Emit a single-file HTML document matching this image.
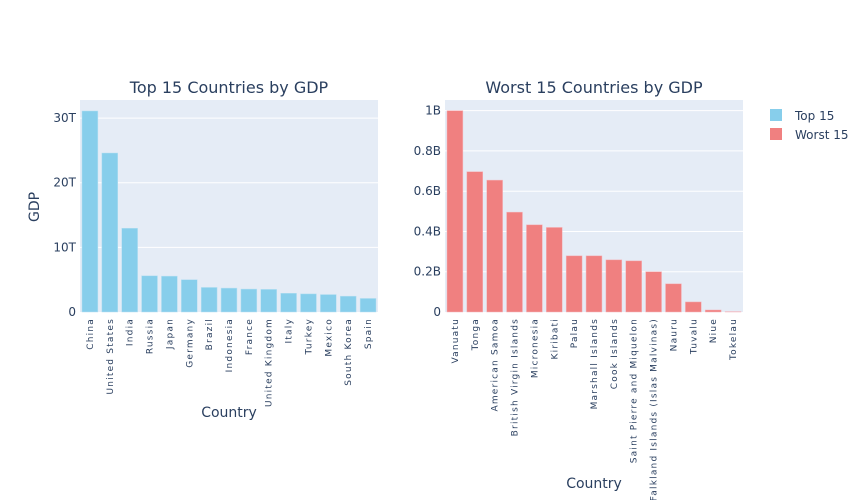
<!DOCTYPE html>
<html><head><meta charset="utf-8">
<style>
body{margin:0;background:#fff;}
svg{display:block;font-family:"DejaVu Sans","Liberation Sans",sans-serif;}
</style></head>
<body>
<svg id="c" width="866" height="500"></svg>
<script>
const topCountries=["China","United States","India","Russia","Japan","Germany","Brazil","Indonesia","France","United Kingdom","Italy","Turkey","Mexico","South Korea","Spain"];
const topValues=[31.1,24.6,12.96,5.6,5.55,5.0,3.8,3.7,3.55,3.5,2.9,2.8,2.7,2.45,2.1];
const topTicks=[0,10,20,30];
const topTickLabels=["0","10T","20T","30T"];
const worstCountries=["Vanuatu","Tonga","American Samoa","British Virgin Islands","Micronesia","Kiribati","Palau","Marshall Islands","Cook Islands","Saint Pierre and Miquelon","Falkland Islands (Islas Malvinas)","Nauru","Tuvalu","Niue","Tokelau"];
const worstValues=[1.0,0.697,0.655,0.496,0.433,0.42,0.279,0.279,0.259,0.254,0.2,0.14,0.05,0.01,0.002];
const worstTicks=[0,0.2,0.4,0.6,0.8,1];
const worstTickLabels=["0","0.2B","0.4B","0.6B","0.8B","1B"];
const NS="http://www.w3.org/2000/svg";
const svg=document.getElementById('c');
function mk(tag,attrs,parent,text){const e=document.createElementNS(NS,tag);for(const k in attrs)e.setAttribute(k,attrs[k]);if(text!==undefined)e.textContent=text;(parent||svg).appendChild(e);return e;}
function panel(p){
  const g=mk('g',{});
  
  
  const bg=mk('rect',{x:p.x0,y:p.y0,width:p.x1-p.x0,height:p.y1-p.y0,fill:'#e5ecf6'},g);
  
  
  const yS=v=>p.y1-(v/p.max)*(p.y1-p.y0);
  const band=(p.x1-p.x0)/p.cats.length;
  const xS=i=>p.x0+band*(i+0.5);
  p.ticks.forEach((t,i)=>{
    if(t>0){const l=mk('line',{x1:p.x0,x2:p.x1,y1:yS(t),y2:yS(t),stroke:'#fff','stroke-width':1},g);
      }
    const tx=mk('text',{x:p.x0-4,y:yS(t)+4,'text-anchor':'end','font-size':12,fill:'#2a3f5f'},g,p.tickLabels[i]);
    
  });
  p.vals.forEach((v,i)=>{
    const w=band*0.8;
    const r=mk('rect',{x:xS(i)-w/2,y:yS(v),width:w,height:p.y1-yS(v),fill:p.color,stroke:p.stroke,'stroke-width':0.5},g);
    
    
    const tl=mk('text',{x:0,y:0,transform:`translate(${xS(i)+3},${p.y1+6}) rotate(-90)`,'text-anchor':'end','font-size':9,fill:'#2a3f5f','letter-spacing':'1.2'},g,p.cats[i]);
    
  });
  const t=mk('text',{x:(p.x0+p.x1)/2,y:93,'text-anchor':'middle','font-size':16,fill:'#2a3f5f'},g,p.title);
  
  const xt=mk('text',{x:(p.x0+p.x1)/2,y:p.xTitleY,'text-anchor':'middle','font-size':14,fill:'#2a3f5f'},g,'Country');
  
}
panel({name:'top-15',x0:80,x1:378,y0:100,y1:312,max:32.8,cats:topCountries,vals:topValues,ticks:topTicks,tickLabels:topTickLabels,color:'#87ceeb',stroke:'#b8e0f2',title:'Top 15 Countries by GDP',xTitleY:417});
panel({name:'worst-15',x0:445,x1:743,y0:100,y1:312,max:1.053,cats:worstCountries,vals:worstValues,ticks:worstTicks,tickLabels:worstTickLabels,color:'#f08080',stroke:'#f4b6bc',title:'Worst 15 Countries by GDP',xTitleY:488});
const yt=mk('text',{x:0,y:0,transform:'translate(39,207) rotate(-90)','text-anchor':'middle','font-size':14,fill:'#2a3f5f'},svg,'GDP');

[['Top 15','#87ceeb',116],['Worst 15','#f08080',135]].forEach(([n,c,y])=>{
  const g=mk('g',{});
  
  
  mk('rect',{x:770,y:y-7,width:12,height:12,fill:c},g);
  mk('text',{x:795,y:y+4,'font-size':12,fill:'#2a3f5f'},g,n);
});
</script>
</body></html>
